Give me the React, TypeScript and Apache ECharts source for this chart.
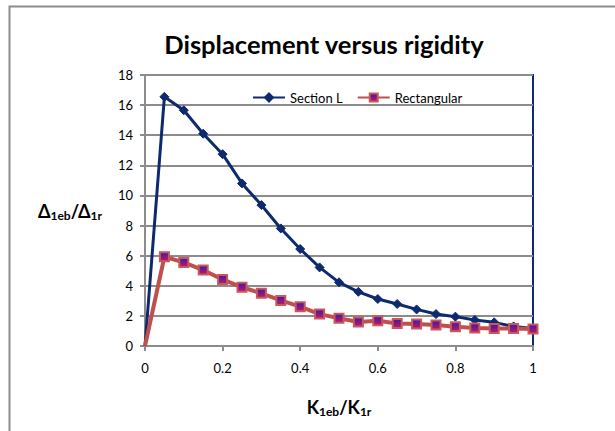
import React, { useEffect, useRef } from "react";
import * as echarts from "echarts";

const xValues = [0, 0.05, 0.1, 0.15, 0.2, 0.25, 0.3, 0.35, 0.4, 0.45, 0.5, 0.55, 0.6, 0.65, 0.7, 0.75, 0.8, 0.85, 0.9, 0.95, 1.0];
const sectionL = [0, 16.55, 15.66, 14.1, 12.74, 10.8, 9.36, 7.81, 6.44, 5.22, 4.23, 3.6, 3.12, 2.79, 2.43, 2.12, 1.95, 1.73, 1.57, 1.3, 1.17];
const rectangular = [0, 5.93, 5.55, 5.04, 4.42, 3.9, 3.5, 3.03, 2.61, 2.12, 1.84, 1.6, 1.68, 1.5, 1.46, 1.39, 1.28, 1.19, 1.17, 1.17, 1.13];

const FONT = "Lato, 'Open Sans', sans-serif";

function pts(ys: number[]) {
  return ys.map((y, i) => (i === 0 ? { value: [xValues[i], y], symbol: "none" } : { value: [xValues[i], y] }));
}

export default function App() {
  const ref = useRef<HTMLDivElement>(null);
  useEffect(() => {
    const chart = echarts.init(ref.current!, undefined, { renderer: "svg" });
    chart.setOption({
      animation: false,
      backgroundColor: "#ffffff",
      title: {
        text: "Displacement versus rigidity",
        left: 319,
        textAlign: "center",
        top: 26,
        itemGap: 0,
        textStyle: { fontFamily: FONT, fontWeight: "bold", fontSize: 25.5, color: "#000" },
      },
      graphic: [
        {
          type: "rect",
          shape: { x: 9.5, y: 6.5, width: 640, height: 460 },
          style: { fill: "none", stroke: "#8c8c8c", lineWidth: 2 },
          silent: true,
        },
      ],
      legend: {
        top: 86,
        left: 247,
        itemWidth: 32,
        itemHeight: 10,
        itemGap: 14,
        textStyle: { fontFamily: FONT, fontSize: 13, color: "#000" },
        data: ["Section L", "Rectangular"],
      },
      grid: {
        left: 145,
        right: 82,
        top: 75,
        bottom: 85,
        show: true,
        borderColor: "#0e2a6e",
        borderWidth: 2,
        backgroundColor: "transparent",
      },
      xAxis: {
        type: "value",
        min: 0,
        max: 1,
        interval: 0.2,
        name: "{a|K}{s|1eb}{a|/K}{s|1r}",
        nameLocation: "middle",
        nameGap: 50,
        nameTextStyle: {
          rich: {
            a: { fontFamily: FONT, fontWeight: "bold", fontSize: 18, color: "#000" },
            s: { fontFamily: FONT, fontWeight: "bold", fontSize: 12, color: "#000", verticalAlign: "bottom", padding: [9, 0, 0, 0] },
          },
        },
        axisLine: { show: true, lineStyle: { color: "#8c8c8c", width: 2 } },
        axisTick: { show: true, length: 5, lineStyle: { color: "#8c8c8c", width: 2 } },
        axisLabel: { fontFamily: FONT, fontSize: 13, color: "#000", margin: 15, formatter: (v: number) => String(Math.round(v * 10) / 10) },
        splitLine: { show: false },
      },
      yAxis: {
        type: "value",
        min: 0,
        max: 18,
        interval: 2,
        name: "{a|Δ}{s|1eb}{a|/Δ}{s|1r}",
        nameLocation: "middle",
        nameRotate: 0,
        nameGap: 43,
        nameTextStyle: {
          align: "right",
          rich: {
            a: { fontFamily: FONT, fontWeight: "bold", fontSize: 18, color: "#000" },
            s: { fontFamily: FONT, fontWeight: "bold", fontSize: 12, color: "#000", verticalAlign: "bottom", padding: [9, 0, 0, 0] },
          },
        },
        axisLine: { show: true, lineStyle: { color: "#8c8c8c", width: 2 } },
        axisTick: { show: true, length: 5, lineStyle: { color: "#8c8c8c", width: 2 } },
        axisLabel: { fontFamily: FONT, fontSize: 13, color: "#000", margin: 12 },
        splitLine: { show: true, lineStyle: { color: "#8c8c8c", width: 2 } },
      },
      series: [
        {
          name: "Section L",
          type: "line",
          data: pts(sectionL),
          symbol: "diamond",
          symbolSize: 9,
          showAllSymbol: true,
          lineStyle: { color: "#0e2a6e", width: 3 },
          itemStyle: { color: "#0e2a6e", borderColor: "#0e2a6e", borderWidth: 1 },
          z: 3,
        },
        {
          name: "Rectangular",
          type: "line",
          data: pts(rectangular),
          symbol: "rect",
          symbolSize: 9,
          showAllSymbol: true,
          lineStyle: { color: "#c0504d", width: 4 },
          itemStyle: {
            color: new echarts.graphic.LinearGradient(0, 0, 0, 1, [
              { offset: 0, color: "#3a1aa8" },
              { offset: 1, color: "#c0186a" },
            ]),
            borderColor: "#c8585a",
            borderWidth: 2,
          },
          z: 4,
        },
      ],
    });
    return () => chart.dispose();
  }, []);
  return <div ref={ref} style={{ position: "fixed", left: 0, top: 0, width: 615, height: 431 }} />;
}
